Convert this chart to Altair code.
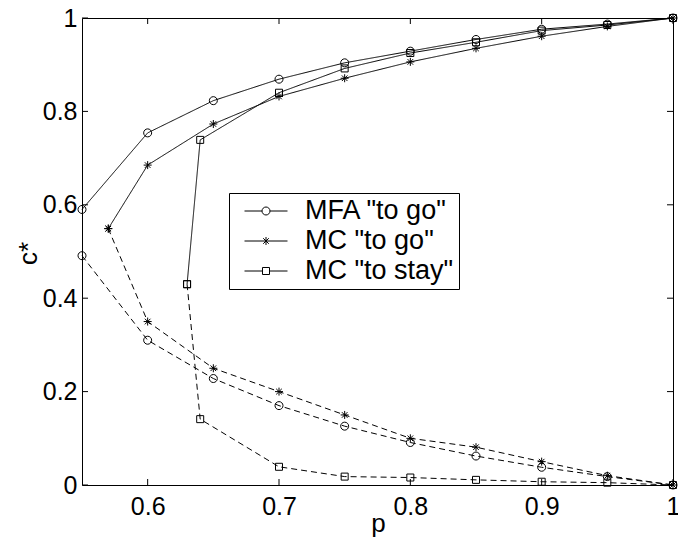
import altair as alt
import pandas as pd

methods = ['MFA "to go"', 'MC "to go"', 'MC "to stay"']

p_mfa = [0.55, 0.60, 0.65, 0.70, 0.75, 0.80, 0.85, 0.90, 0.95, 1.00]
mfa_upper = [0.590, 0.754, 0.823, 0.869, 0.904, 0.929, 0.954, 0.976, 0.987, 1.000]
mfa_lower = [0.491, 0.310, 0.228, 0.170, 0.126, 0.091, 0.062, 0.038, 0.018, 0.000]

p_mc_go = [0.57, 0.60, 0.65, 0.70, 0.75, 0.80, 0.85, 0.90, 0.95, 1.00]
mcgo_upper = [0.549, 0.685, 0.773, 0.832, 0.871, 0.906, 0.935, 0.961, 0.982, 1.000]
mcgo_lower = [0.549, 0.350, 0.250, 0.200, 0.150, 0.100, 0.081, 0.050, 0.020, 0.000]

p_mc_stay = [0.63, 0.64, 0.70, 0.75, 0.80, 0.85, 0.90, 0.95, 1.00]
mcstay_upper = [0.430, 0.739, 0.840, 0.892, 0.925, 0.948, 0.973, 0.985, 1.000]
mcstay_lower = [0.430, 0.141, 0.039, 0.018, 0.016, 0.011, 0.007, 0.005, 0.000]

x_ticks = [0.6, 0.7, 0.8, 0.9, 1.0]
y_ticks = [0.0, 0.2, 0.4, 0.6, 0.8, 1.0]

rows = []
for m, ps, up, lo in [
    (methods[0], p_mfa, mfa_upper, mfa_lower),
    (methods[1], p_mc_go, mcgo_upper, mcgo_lower),
    (methods[2], p_mc_stay, mcstay_upper, mcstay_lower),
]:
    for pi, v in zip(ps, up):
        rows.append(dict(p=pi, c=v, method=m, legend_label=m, branch="upper", series=m + "|upper"))
    for pi, v in zip(ps, lo):
        rows.append(dict(p=pi, c=v, method=m, legend_label=m, branch="lower", series=m + "|lower"))
df = pd.DataFrame(rows)

FONT = "Liberation Sans"

# marker shapes (unit box -1..1)
marker_paths = [
    "M1,0A1,1 0 1,1 -1,0A1,1 0 1,1 1,0Z",
    "M-1,0H1M0,-1V1M-0.7,-0.7L0.7,0.7M-0.7,0.7L0.7,-0.7",
    "M-0.875,-0.875H0.875V0.875H-0.875Z",
]
# legend symbols: line with marker in the middle
r = 0.186
legend_paths = [
    f"M-1,0H-{r}M{r},0H1M{r},0A{r},{r} 0 1,1 -{r},0A{r},{r} 0 1,1 {r},0Z",
    f"M-1,0H1M0,-{r}V{r}M-0.13,-0.13L0.13,0.13M-0.13,0.13L0.13,-0.13",
    f"M-1,0H-0.163M0.163,0H1M-0.163,-0.163H0.163V0.163H-0.163Z",
]

x_scale = alt.Scale(domain=[0.55, 1.0], nice=False, zero=False)
y_scale = alt.Scale(domain=[0, 1], nice=False, zero=False)

x_axis = alt.Axis(
    values=x_ticks, format="~g", title="p", ticks=False, tickSize=0, domain=False, grid=False,
    labelFont=FONT, labelFontSize=25, labelColor="black", labelPadding=9,
    labelFlush=False, labelOverlap=False, labelBound=False,
    titleFont=FONT, titleFontSize=26, titleFontWeight="normal", titleColor="black",
    titleX=296, titleY=46, titleBaseline="alphabetic", titleAlign="center",
)
y_axis = alt.Axis(
    values=y_ticks, format="~g", title="c*", ticks=False, tickSize=0, domain=False, grid=False,
    labelFont=FONT, labelFontSize=25, labelColor="black", labelPadding=5,
    labelFlush=False, labelOverlap=False, labelBound=False,
    titleFont=FONT, titleFontSize=26, titleFontWeight="normal", titleColor="black",
    titleX=-54, titleY=235, titleBaseline="middle", titleAlign="center", titleAngle=270,
)

lines = alt.Chart(df).mark_line(color="black", strokeWidth=1).encode(
    x=alt.X("p:Q", scale=x_scale, axis=x_axis),
    y=alt.Y("c:Q", scale=y_scale, axis=y_axis),
    detail="series:N",
    order="p:Q",
    strokeDash=alt.StrokeDash(
        "branch:N",
        scale=alt.Scale(domain=["upper", "lower"], range=[[1, 0], [6, 4]]),
        legend=None,
    ),
)

points = alt.Chart(df).mark_point(filled=False, color="black", strokeWidth=1, size=64, opacity=1).encode(
    x="p:Q",
    y="c:Q",
    shape=alt.Shape("method:N", scale=alt.Scale(domain=methods, range=marker_paths), legend=None),
)

legend_layer = alt.Chart(df).mark_point(filled=False, color="black", strokeWidth=1, opacity=0).encode(
    x="p:Q",
    y="c:Q",
    shape=alt.Shape(
        "legend_label:N",
        scale=alt.Scale(domain=methods, range=legend_paths),
        legend=alt.Legend(
            title=None, orient="none", legendX=147, legendY=175,
            symbolSize=1849, symbolStrokeWidth=1, symbolStrokeColor="black",
            symbolOpacity=1, clipHeight=26, rowPadding=3, padding=5,
            symbolOffset=10, labelOffset=17, labelFont=FONT, labelFontSize=27,
            labelColor="black", labelLimit=400, strokeColor="black", fillColor="white",
        ),
    ),
)

xt = pd.DataFrame({"p": x_ticks})
yt = pd.DataFrame({"c": y_ticks})
tick_bottom = alt.Chart(xt).mark_rule(color="black", strokeWidth=1).encode(
    x="p:Q", y=alt.value(467), y2=alt.value(461))
tick_top = alt.Chart(xt).mark_rule(color="black", strokeWidth=1).encode(
    x="p:Q", y=alt.value(0), y2=alt.value(6))
tick_left = alt.Chart(yt).mark_rule(color="black", strokeWidth=1).encode(
    y="c:Q", x=alt.value(0), x2=alt.value(6))
tick_right = alt.Chart(yt).mark_rule(color="black", strokeWidth=1).encode(
    y="c:Q", x=alt.value(591), x2=alt.value(585))

chart = alt.layer(
    lines, points, legend_layer, tick_bottom, tick_top, tick_left, tick_right
).resolve_scale(
    shape="independent"
).properties(
    width=591, height=467,
    autosize=alt.AutoSizeParams(type="none"),
    padding={"left": 74, "top": 10, "right": 5, "bottom": 52},
    background="white",
).configure_view(stroke="black", strokeWidth=1)

chart.save("out.html", embed_options={"renderer": "svg", "actions": False})
